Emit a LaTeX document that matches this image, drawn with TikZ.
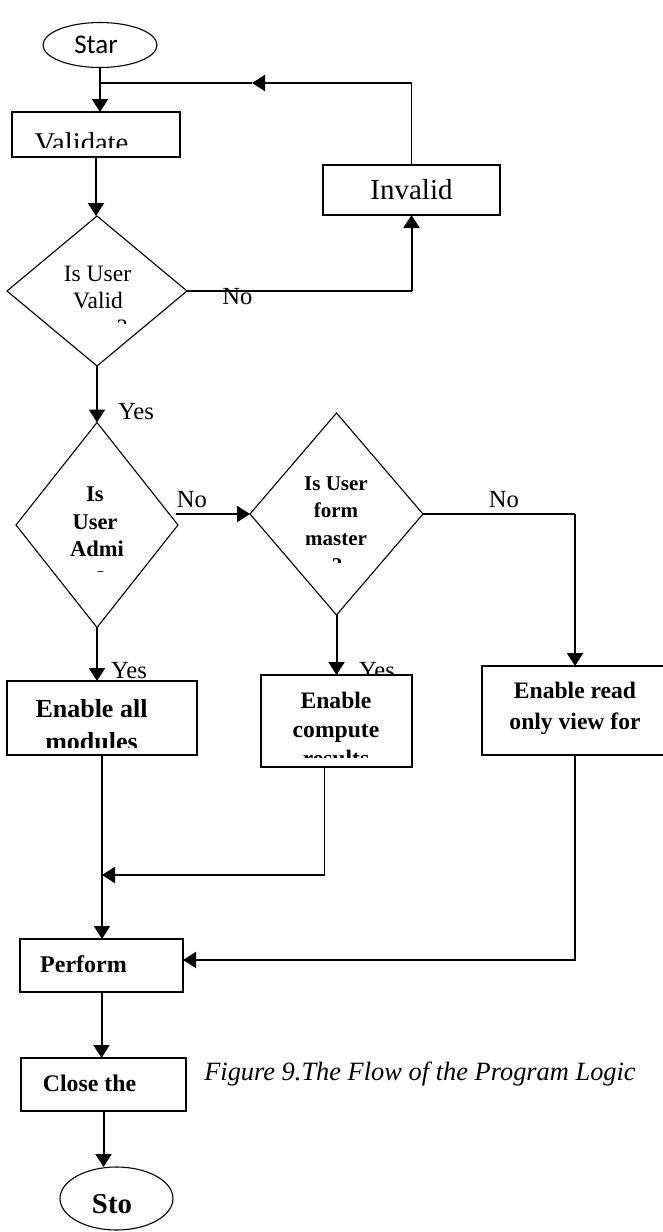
\documentclass[tikz,border=0pt]{standalone}
\usepackage{fontspec}
\setmainfont{Liberation Serif}
\newfontfamily\startfont{Carlito}
\usetikzlibrary{arrows.meta,shapes.geometric}

\begin{document}
\begin{tikzpicture}[x=0.5pt, y=-0.5pt,
    box/.style={draw, line width=0.7pt, fill=white, inner sep=0pt, outer sep=0pt},
    decision/.style={draw, diamond, line width=0.55pt, inner sep=0pt, outer sep=0pt},
    terminal/.style={draw, ellipse, line width=0.55pt, inner sep=0pt, outer sep=0pt},
    flow/.style={-{Triangle[length=6.5pt, width=8pt]}, line width=1pt},
    link/.style={line width=0.6pt},
    txt/.style={anchor=base, inner sep=0pt},
    lbl/.style={txt, font=\fontsize{12.3}{15}\selectfont}]
    \useasboundingbox (0,0) rectangle (663,1232);

    % ========== TOP: LOGIN CHECK ==========
    \node[terminal, minimum width=57pt, minimum height=22.5pt] (start) at (100,45) {};
    \node[txt, font=\startfont\fontsize{13.5}{16}\selectfont] (starttxt) at (96,53) {Star};

    \node[box, minimum width=84pt, minimum height=22.5pt] (validate) at (96,134.5) {};
    \begin{scope}
        \clip (14,114) rectangle (178,147);
        \node[txt, font=\fontsize{14.3}{17}\selectfont] (validatetxt) at (81.5,152) {Validate};
    \end{scope}

    \node[box, minimum width=88.5pt, minimum height=25pt, font=\fontsize{14.5}{17}\selectfont] (invalid) at (411.5,190) {Invalid};

    % Is user valid?
    \node[decision, minimum width=90pt, minimum height=75pt] (valid) at (97,291) {};
    \begin{scope}[font=\fontsize{11.75}{14}\selectfont]
        \clip (30,250) rectangle (165,323);
        \node[txt] (validtxta) at (97.5,281) {Is User};
        \node[txt] (validtxtb) at (98,308) {Valid};
        \node[txt] (validtxtc) at (122,335.5) {?};
    \end{scope}
    \node[lbl] (novalid) at (237.5,304) {No};
    \node[lbl] (yesvalid) at (136,419) {Yes};

    % ========== MIDDLE: ROLE CHECKS ==========
    \node[decision, minimum width=81pt, minimum height=102.5pt] (admin) at (97,525) {};
    \begin{scope}[font=\bfseries\fontsize{11.25}{14}\selectfont]
        \clip (30,470) rectangle (165,571);
        \node[txt] (admintxta) at (95,501.5) {Is};
        \node[txt] (admintxtb) at (95,529.5) {User};
        \node[txt] (admintxtc) at (97,556.5) {Admi};
        \node[txt] (admintxtd) at (95,586) {n?};
    \end{scope}
    \node[lbl] (noadmin) at (192,507) {No};
    \node[lbl] (yesadmin) at (129,678) {Yes};

    \node[decision, minimum width=86.5pt, minimum height=101pt] (form) at (336.5,514) {};
    \begin{scope}[font=\bfseries\fontsize{10.5}{13}\selectfont]
        \clip (270,460) rectangle (405,562);
        \node[txt] (formtxta) at (336,490.5) {Is User};
        \node[txt] (formtxtb) at (336,517) {form};
        \node[txt] (formtxtc) at (336,545.5) {master};
        \node[txt] (formtxtd) at (337,572.5) {?};
    \end{scope}
    \node[lbl] (noform) at (504,507) {No};
    \node[lbl] (yesform) at (377,678) {Yes};

    % Action boxes
    \node[box, minimum width=95pt, minimum height=37pt] (all) at (102,718) {};
    \begin{scope}[font=\bfseries\fontsize{13}{16}\selectfont]
        \clip (9,683) rectangle (195,747);
        \node[txt] (alltxta) at (91.5,717) {Enable all};
        \node[txt] (alltxtb) at (91.5,750) {modules};
    \end{scope}

    \node[box, minimum width=75.5pt, minimum height=46pt] (compute) at (336.5,721) {};
    \begin{scope}[font=\bfseries\fontsize{11.8}{14}\selectfont]
        \clip (263,677) rectangle (410,757);
        \node[txt] (computetxta) at (336,708) {Enable};
        \node[txt] (computetxtb) at (336,737) {compute};
        \node[txt] (computetxtc) at (336,766) {results};
    \end{scope}

    \node[box, minimum width=93pt, minimum height=44.5pt] (read) at (575,710.5) {};
    \node[txt, font=\bfseries\fontsize{11.8}{14}\selectfont] (readtxta) at (575,698) {Enable read};
    \node[txt, font=\bfseries\fontsize{11.8}{14}\selectfont] (readtxtb) at (575,729) {only view for};

    % ========== BOTTOM: FINISH ==========
    \node[box, minimum width=81.5pt, minimum height=26.5pt] (perform) at (101.5,965.5) {};
    \node[txt, font=\bfseries\fontsize{12}{14}\selectfont] (performtxt) at (83.5,972) {Perform};

    \node[box, minimum width=82.5pt, minimum height=26.5pt] (close) at (103.5,1084.5) {};
    \node[txt, font=\bfseries\fontsize{11.9}{14}\selectfont] (closetxt) at (89.5,1091) {Close the};

    \node[terminal, minimum width=56.5pt, minimum height=31.5pt] (stop) at (116.5,1198.5) {};
    \node[txt, font=\bfseries\fontsize{14.4}{17}\selectfont] (stoptxt) at (112,1213) {Sto};

    \node[txt, font=\itshape\fontsize{13.2}{16}\selectfont] (caption) at (420,1080) {Figure 9.The Flow of the Program Logic};

    % Connectors
    \draw[flow] (start.south) -- (start.south |- validate.north);
    \draw[flow] (validate.south) -- (validate.south |- valid.north);
    \draw[flow] (valid.south) -- (admin.north);
    \draw[flow] (admin.south) -- (admin.south |- all.north);
    \draw[flow] (form.south) -- (form.south |- compute.north);

    % No branch back to the top
    \coordinate (validturn) at (invalid.south |- valid.east);
    \draw[link] (valid.east) -- (validturn);
    \draw[flow] (validturn) -- (invalid.south);
    \coordinate (loopstart) at (350,83);
    \coordinate (looptip) at (252,83);
    \coordinate (loopin) at (100,83);
    \draw[link] (invalid.north) |- (loopstart);
    \draw[flow] (loopstart) -- (looptip);
    \draw[link] (looptip) -- (loopin);

    % Role branches
    \coordinate (adminout) at (176,514);
    \draw[flow] (adminout) -- (form.west);
    \coordinate (formturn) at (read.north |- form.east);
    \draw[link] (form.east) -- (formturn);
    \draw[flow] (formturn) -- (read.north);

    % Merge into perform
    \draw[flow] (all.south) -- (all.south |- perform.north);
    \coordinate (mergey) at (0,875);
    \coordinate (computeout) at ([xshift=-6pt]compute.south);
    \coordinate (computeturn) at (computeout |- mergey);
    \coordinate (merge) at (all.south |- mergey);
    \draw[link] (computeout) -- (computeturn);
    \draw[flow] (computeturn) -- (merge);
    \coordinate (performin) at ([yshift=2.75pt]perform.east);
    \draw[flow] (read.south) |- (performin);
    \draw[flow] (perform.south) -- (perform.south |- close.north);
    \draw[flow] (close.south) -- (close.south |- stop.north);

\end{tikzpicture}
\end{document}
